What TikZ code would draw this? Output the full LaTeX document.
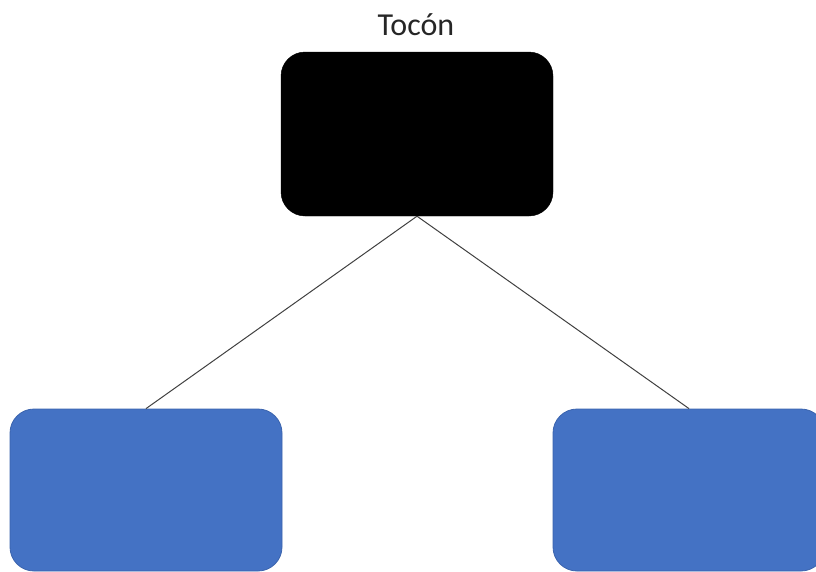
\documentclass[tikz,border=0pt]{standalone}
\usepackage{fontspec}
\setmainfont{Carlito}
\definecolor{boxblue}{HTML}{4472C4}
\definecolor{boxedge}{HTML}{3A63AD}
\definecolor{linkgray}{HTML}{404040}
\begin{document}
\begin{tikzpicture}[x=1pt,y=-1pt,
  rootbox/.style={draw=black,fill=black,rounded corners=24pt,minimum width=272pt,minimum height=164pt,inner sep=0pt},
  childbox/.style={draw=boxedge,line width=0.8pt,fill=boxblue,rounded corners=24pt,minimum width=272pt,minimum height=162pt,inner sep=0pt},
  link/.style={draw=linkgray,line width=1pt}]
\useasboundingbox (0,0) rectangle (816,571);
\node[rootbox] (root) at (417,134) {};
\node[childbox] (left) at (146,490) {};
\node[childbox] (right) at (689,490) {};
\node[anchor=base,font=\fontsize{32}{38}\selectfont,text=black!85] (title) at (416,35) {Tocón};
\draw[link] (root.south) -- (left.north);
\draw[link] (root.south) -- (right.north);
\end{tikzpicture}
\end{document}
